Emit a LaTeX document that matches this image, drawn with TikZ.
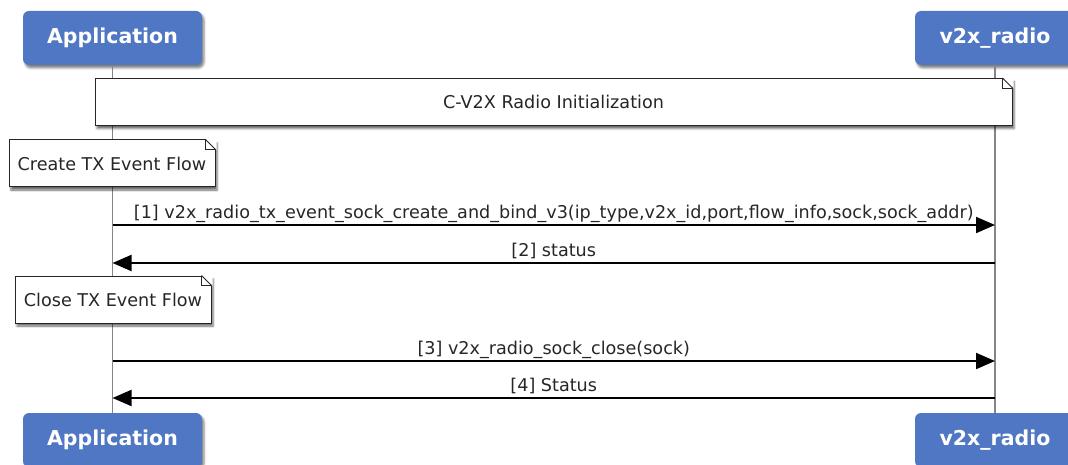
\documentclass[tikz,border=0pt]{standalone}
\usepackage{fontspec}
\setmainfont{DejaVu Sans}
\usetikzlibrary{arrows.meta,shadows.blur,calc,positioning}
\definecolor{actorblue}{HTML}{4F77C3}
\definecolor{lifegray}{HTML}{858585}
\definecolor{notetext}{HTML}{262626}
\tikzset{
  actor/.style={rounded corners=6pt, fill=actorblue, text=white,
    font=\fontsize{20.5}{24}\selectfont\bfseries, minimum height=54pt,
    blur shadow={shadow xshift=2pt, shadow yshift=-3pt, shadow opacity=50}},
  notebox/.style={draw=black!85, fill=white, text=notetext, line width=1pt,
    font=\fontsize{17.6}{20}\selectfont, minimum height=47pt,
    blur shadow={shadow xshift=2pt, shadow yshift=-3pt, shadow opacity=60}},
  lifeline/.style={draw=lifegray, line width=1.6pt},
  msg/.style={line width=2pt, -{Triangle[length=19pt,width=16pt]}},
  lbl/.style={font=\fontsize{17.6}{20}\selectfont, text=notetext, anchor=base, inner sep=0pt}
}
\begin{document}
\begin{tikzpicture}[x=1pt,y=-1pt]
    \path[use as bounding box, clip] (0,0) rectangle (1068,465);
    % participants
    \node[actor, minimum width=179pt] (app) at (112.5,38) {Application};
    \node[actor, minimum width=160pt] (radio) at (995,38) {v2x\_radio};
    \node[actor, minimum width=179pt] (appbot) at (112.5,440) {Application};
    \node[actor, minimum width=160pt] (radiobot) at (995,440) {v2x\_radio};
    \draw[lifeline] (app) -- (appbot);
    \draw[lifeline] (radio) -- (radiobot);
    % notes
    \node[notebox, minimum width=917pt] (init) at (553.5,102) {C-V2X Radio Initialization};
    \node[notebox, minimum width=206pt] (create) at (112,163.5) {Create TX Event Flow};
    \node[notebox, minimum width=196pt] (close) at (113,299.5) {Close TX Event Flow};
    \foreach \n in {init,create,close} {
      \fill[white] ($(\n.north east)+(-10.5,-1)$) -- ($(\n.north east)+(1,-1)$) -- ($(\n.north east)+(1,10.5)$) -- cycle;
      \draw[black!85, line width=1pt] ($(\n.north east)+(-10,0)$) -- ($(\n.north east)+(0,10)$);
      \draw[black!85, line width=0.8pt] ($(\n.north east)+(-10,0)$) -- ($(\n.north east)+(-10,10)$) -- ($(\n.north east)+(0,10)$);
    }
    % messages
    \coordinate (s1) at (0,225);
    \coordinate (s2) at (0,263);
    \coordinate (s3) at (0,361);
    \coordinate (s4) at (0,398);
    \draw[msg] (app |- s1) -- node[lbl, yshift=6.5pt] (m1) {[1] v2x\_radio\_tx\_event\_sock\_create\_and\_bind\_v3(ip\_type,v2x\_id,port,flow\_info,sock,sock\_addr)} (radio |- s1);
    \draw[msg] (radio |- s2) -- node[lbl, yshift=6.5pt] (m2) {[2] status} (app |- s2);
    \draw[msg] (app |- s3) -- node[lbl, yshift=6.5pt] (m3) {[3] v2x\_radio\_sock\_close(sock)} (radio |- s3);
    \draw[msg] (radio |- s4) -- node[lbl, yshift=6.5pt] (m4) {[4] Status} (app |- s4);
\end{tikzpicture}
\end{document}
